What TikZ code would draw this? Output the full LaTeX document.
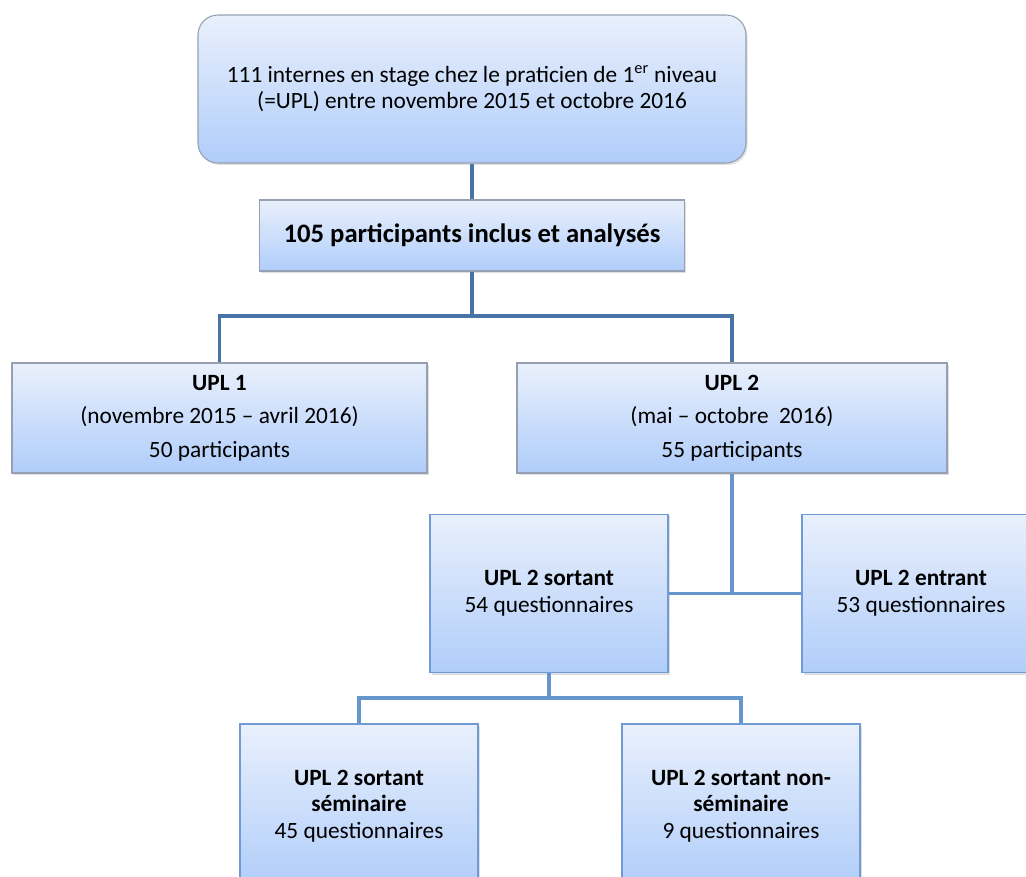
\documentclass[tikz,border=0pt]{standalone}
\usepackage{fontspec}
\setmainfont{Carlito}
\usetikzlibrary{shadows}

\definecolor{boxtop}{RGB}{233,240,252}
\definecolor{boxbot}{RGB}{176,205,250}
\definecolor{rimgray}{RGB}{150,160,178}
\definecolor{rimblue}{RGB}{112,155,212}
\definecolor{linedark}{RGB}{72,115,166}
\definecolor{linelight}{RGB}{102,150,206}

\tikzset{
  card/.style={rectangle, draw=rimgray, line width=0.8pt, top color=boxtop, bottom color=boxbot,
    align=center, inner sep=0pt, font=\fontsize{17.5}{20}\selectfont,
    drop shadow={opacity=0.25, shadow xshift=1.2pt, shadow yshift=-1.5pt}},
  bluecard/.style={card, draw=rimblue},
  link/.style={draw=linedark, line width=2.8pt},
  sublink/.style={draw=linelight, line width=2.8pt}
}

\begin{document}
\begin{tikzpicture}[x=0.75pt,y=-0.75pt]
\useasboundingbox (0,0) rectangle (1026,877);
\clip (0,0) rectangle (1026,877);

% boxes
\node[card, rounded corners=15pt, minimum width=411pt, minimum height=111pt] (top) at (472,89)
  {111 internes en stage chez le praticien de 1\textsuperscript{er} niveau\\(=UPL) entre novembre 2015 et octobre 2016};
\node[card, minimum width=318.75pt, minimum height=53.25pt, font=\fontsize{20}{24}\selectfont\bfseries] (incl) at (472,235.5)
  {105 participants inclus et analysés};
\node[card, minimum width=311.25pt, minimum height=82.5pt] (upla) at (219.5,418)
  {\textbf{UPL 1}\\[5pt](novembre 2015 – avril 2016)\\[5pt]50 participants};
\node[card, minimum width=322.5pt, minimum height=82.5pt] (uplb) at (732,418)
  {\textbf{UPL 2}\\[5pt](mai – octobre~~2016)\\[5pt]55 participants};
\node[bluecard, minimum width=178.5pt, minimum height=118.5pt] (sort) at (549,593.5)
  {\textbf{UPL 2 sortant}\\54 questionnaires};
\node[bluecard, minimum width=178.5pt, minimum height=118.5pt] (entr) at (921,593.5)
  {\textbf{UPL 2 entrant}\\53 questionnaires};
\node[bluecard, minimum width=178.5pt, minimum height=123pt] (semi) at (359,806)
  {\textbf{UPL 2 sortant}\\\textbf{séminaire}\\45 questionnaires};
\node[bluecard, minimum width=178.5pt, minimum height=123pt] (nsemi) at (741,806)
  {\textbf{UPL 2 sortant non-}\\\textbf{séminaire}\\9 questionnaires};

% connectors
\coordinate (split1) at (472,316);
\coordinate (split2) at (549,698);
\draw[link] (incl.north) -- (incl.north |- top.south);
\draw[link] (incl.south) -- (split1);
\draw[link] (upla.north) |- (split1) -| (uplb.north);
\draw[sublink] (uplb.south) -- (uplb.south |- sort.east);
\draw[sublink] (sort.east) -- (entr.west);
\draw[sublink] (sort.south) -- (split2);
\draw[sublink] (semi.north) |- (split2) -| (nsemi.north);
\end{tikzpicture}
\end{document}
